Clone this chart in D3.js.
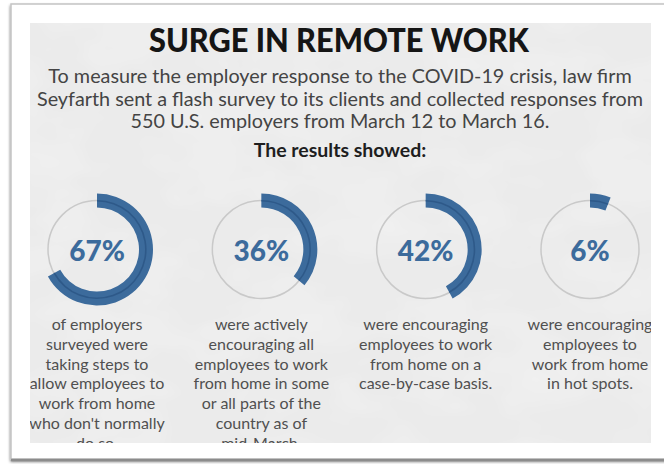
<!DOCTYPE html>
<html>
<head>
<meta charset="utf-8">
<script src="https://cdn.jsdelivr.net/npm/d3@7"></script>
<style>
  html, body { margin: 0; padding: 0; background: #ffffff; }
  svg { display: block; }
</style>
</head>
<body>
<svg id="chart" width="664" height="464"></svg>
<script>
// Survey results: share of U.S. employers taking each remote-work step
const titleText = "SURGE IN REMOTE WORK";
const introLines = [
  "To measure the employer response to the COVID-19 crisis, law firm",
  "Seyfarth sent a flash survey to its clients and collected responses from",
  "550 U.S. employers from March 12 to March 16."
];
const leadIn = "The results showed:";
const categories = ["steps", "all", "case", "hotspots"];
const shares = [67, 36, 42, 6];
const captions = [
  ["of employers", "surveyed were", "taking steps to", "allow employees to", "work from home", "who don't normally", "do so."],
  ["were actively", "encouraging all", "employees to work", "from home in some", "or all parts of the", "country as of", "mid-March."],
  ["were encouraging", "employees to work", "from home on a", "case-by-case basis."],
  ["were encouraging", "employees to", "work from home", "in hot spots."]
];

const W = 664, H = 464;
const panel = { x: 30, y: 23, w: 621, h: 420 };
const blue = "#3c6b9c";
const font = "Lato, 'Open Sans', sans-serif";
const svg = d3.select("#chart");
const defs = svg.append("defs");

// soft shadow under the card
const sh = defs.append("filter").attr("id", "shadow").attr("x", "-5%").attr("y", "-5%").attr("width", "110%").attr("height", "115%");
sh.append("feGaussianBlur").attr("in", "SourceAlpha").attr("stdDeviation", 1.6).attr("result", "b");
sh.append("feOffset").attr("in", "b").attr("dx", 0).attr("dy", 2).attr("result", "o");
sh.append("feComponentTransfer").attr("in", "o").attr("result", "s")
  .append("feFuncA").attr("type", "linear").attr("slope", 0.55);
const shm = sh.append("feMerge");
shm.append("feMergeNode").attr("in", "s");
shm.append("feMergeNode").attr("in", "SourceGraphic");

// faint paper texture for the grey panel
const tex = defs.append("filter").attr("id", "paper").attr("x", 0).attr("y", 0).attr("width", "100%").attr("height", "100%");
tex.append("feTurbulence").attr("type", "fractalNoise").attr("baseFrequency", "0.012 0.02").attr("numOctaves", 3).attr("seed", 7).attr("result", "n");
tex.append("feColorMatrix").attr("in", "n").attr("type", "matrix")
  .attr("values", "0 0 0 0 1  0 0 0 0 1  0 0 0 0 1  0 0 0 0.5 -0.18").attr("result", "t");
tex.append("feComposite").attr("in", "t").attr("in2", "SourceGraphic").attr("operator", "in");

const clip = defs.append("clipPath").attr("id", "panelClip");
clip.append("rect").attr("x", panel.x).attr("y", panel.y).attr("width", panel.w).attr("height", panel.h);

// card
svg.append("rect")
  .attr("x", 11).attr("y", 4).attr("width", W).attr("height", 455)
  .attr("fill", "#ffffff").attr("stroke", "#c4c4c4").attr("stroke-width", 1.5)
  .attr("filter", "url(#shadow)");
svg.append("line")
  .attr("x1", 11).attr("x2", W).attr("y1", 460).attr("y2", 460)
  .attr("stroke", "#8c8c8c").attr("stroke-width", 2.5);

// grey panel
svg.append("rect")
  .attr("x", panel.x).attr("y", panel.y).attr("width", panel.w).attr("height", panel.h)
  .attr("fill", "#ebebeb");
svg.append("rect")
  .attr("x", panel.x).attr("y", panel.y).attr("width", panel.w).attr("height", panel.h)
  .attr("fill", "#ebebeb").attr("filter", "url(#paper)").attr("opacity", 0.9);

const g = svg.append("g").attr("clip-path", "url(#panelClip)");

// heading
g.append("text")
  .attr("x", 339).attr("y", 52)
  .attr("text-anchor", "middle")
  .attr("font-family", font)
  .attr("font-weight", 900).attr("font-size", 33)
  .attr("fill", "#151515")
  .attr("textLength", 380).attr("lengthAdjust", "spacingAndGlyphs")
  .text(titleText);

g.append("g").selectAll("text").data(introLines).join("text")
  .attr("x", 340).attr("y", (d, i) => 83 + i * 22.5)
  .attr("text-anchor", "middle")
  .attr("font-family", font)
  .attr("font-size", 19.8).attr("fill", "#444444")
  .text(d => d);

g.append("text")
  .attr("x", 340).attr("y", 157)
  .attr("text-anchor", "middle")
  .attr("font-family", font)
  .attr("font-weight", 700).attr("font-size", 19.5)
  .attr("fill", "#1e1e1e")
  .text(leadIn);

// ring gauges
const x = d3.scalePoint().domain(categories).range([97, 590]);
const angle = d3.scaleLinear().domain([0, 100]).range([0, 2 * Math.PI]);
const R = 49;
const ring = d3.arc().innerRadius(R - 7).outerRadius(R + 7).startAngle(0);
const seam = d3.arc().innerRadius(R - 1).outerRadius(R + 0.6).startAngle(0);
const cy = 249.5;

const items = categories.map((c, i) => ({ c, v: shares[i], lines: captions[i] }));
const gauge = g.selectAll("g.gauge").data(items).join("g")
  .attr("class", "gauge")
  .attr("transform", d => `translate(${x(d.c)},${cy})`);

gauge.append("circle").attr("r", R)
  .attr("fill", "none").attr("stroke", "#c9c9c9").attr("stroke-width", 1.5);
gauge.append("path")
  .attr("d", d => ring({ endAngle: angle(d.v) }))
  .attr("fill", blue);
gauge.append("path")
  .attr("d", d => seam({ endAngle: angle(d.v) }))
  .attr("fill", "#2b5584").attr("opacity", 0.8);
gauge.append("text")
  .attr("y", 11)
  .attr("text-anchor", "middle")
  .attr("font-family", font)
  .attr("font-weight", 900).attr("font-size", 28)
  .attr("fill", blue)
  .text(d => `${d.v}%`);

// captions under each gauge
gauge.append("g").selectAll("text").data(d => d.lines).join("text")
  .attr("y", (d, i) => 80.5 + i * 19.8)
  .attr("text-anchor", "middle")
  .attr("font-family", font)
  .attr("font-size", 16).attr("fill", "#505050")
  .text(d => d);
</script>
</body>
</html>
